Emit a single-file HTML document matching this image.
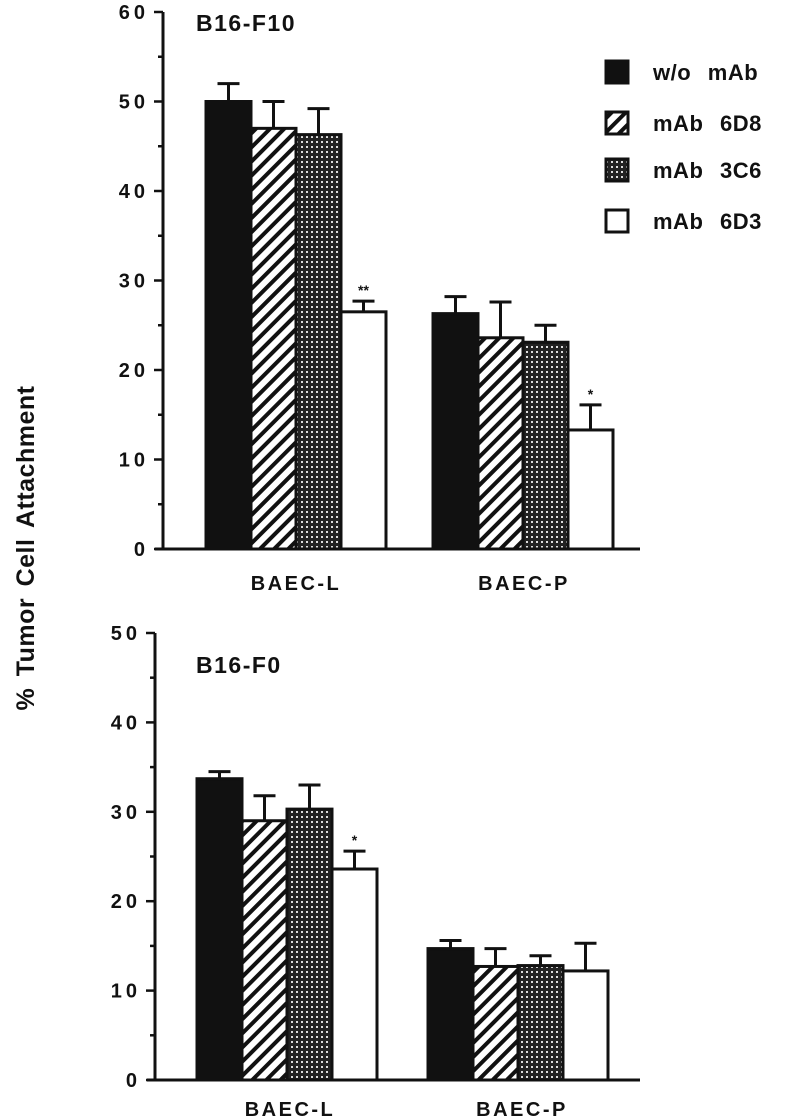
<!DOCTYPE html>
<html><head><meta charset="utf-8"><style>
html,body{margin:0;padding:0;background:#fff;}
svg{display:block;font-family:"Liberation Sans",Arial,sans-serif;font-weight:bold;}
</style></head><body>
<svg id="fig" width="785" height="1120" viewBox="0 0 785 1120">
<defs>
<pattern id="hatch" patternUnits="userSpaceOnUse" width="10" height="10" patternTransform="rotate(45)">
<rect width="10" height="10" fill="#fff"/><rect width="4" height="10" fill="#111"/></pattern>
<pattern id="dots" patternUnits="userSpaceOnUse" width="5" height="5">
<rect width="5" height="5" fill="#222"/><rect x="1" y="1" width="2" height="2" fill="#ddd"/></pattern>
</defs>
<text x="34" y="548" transform="rotate(-90 34 548)" text-anchor="middle" font-size="25" letter-spacing="0.5" word-spacing="4" fill="#111">% Tumor Cell Attachment</text>
</svg>
<script>
const groups=["BAEC-L","BAEC-P"];
const series=["w/o mAb","mAb 6D8","mAb 3C6","mAb 6D3"];
const topVals=[[50,47,46.3,26.5],[26.3,23.6,23.1,13.3]];
const topErr=[[2,3,2.9,1.2],[1.9,4,1.9,2.8]];
const topStars=[["","","","**"],["","","","*"]];
const topTicks=[0,10,20,30,40,50,60];
const botVals=[[33.7,29,30.3,23.6],[14.7,12.7,12.8,12.2]];
const botErr=[[0.8,2.8,2.7,2],[0.9,2,1.1,3.1]];
const botStars=[["","","","*"],["","","",""]];
const botTicks=[0,10,20,30,40,50];
const fills=["#111","url(#hatch)","url(#dots)","#fff"];
const NS="http://www.w3.org/2000/svg";
const svg=document.getElementById('fig');
function el(t,a,p){const e=document.createElementNS(NS,t);for(const k in a)e.setAttribute(k,a[k]);(p||svg).appendChild(e);return e;}
function panel(cfg){
 const g=el('g',{});
 
 
 const y=v=>cfg.y0-(v/10)*cfg.pxPer10;
 const ymax=cfg.ticks[cfg.ticks.length-1];
 const ax=el('line',{x1:cfg.ax,x2:cfg.ax,y1:y(ymax),y2:cfg.y0,stroke:'#111','stroke-width':3},g);
 
 
 const xa=el('line',{x1:cfg.ax-8,x2:cfg.xEnd,y1:cfg.y0,y2:cfg.y0,stroke:'#111','stroke-width':3},g);
 
 
 for(let v=0;v<=ymax;v+=5){
  el('line',{x1:cfg.ax-(v%10?5:9),x2:cfg.ax,y1:y(v),y2:y(v),stroke:'#111','stroke-width':2.5},g);
 }
 cfg.ticks.forEach(t=>{
  const tx=el('text',{x:cfg.ax-14,y:y(t)+7,'text-anchor':'end','font-size':20,'letter-spacing':4,fill:'#111'},g);
  tx.textContent=String(t);
  
  
 });
 const ti=el('text',{x:cfg.titleX,y:cfg.titleY,'font-size':23,'letter-spacing':1.5,fill:'#111'},g);
 ti.textContent=cfg.title;
 
 
 groups.forEach((gn,gi)=>{
  const gl=el('text',{x:cfg.gCenter[gi],y:cfg.labelY,'text-anchor':'middle','font-size':20,'letter-spacing':2.5,fill:'#111'},g);
  gl.textContent=gn;
  
  
  series.forEach((s,si)=>{
   const x0=cfg.gStart[gi]+si*cfg.bw, v=cfg.vals[gi][si], top=y(v);
   const cx=x0+cfg.bw/2, et=y(v+cfg.err[gi][si]);
   const eb=el('path',{d:`M${cx} ${top}V${et}M${cx-11} ${et}H${cx+11}`,stroke:'#111','stroke-width':3,fill:'none'},g);
   
   
   const r=el('rect',{x:x0,y:top,width:cfg.bw,height:cfg.y0-top,fill:fills[si],stroke:'#111','stroke-width':3},g);
   
   
   const st=cfg.stars[gi][si];
   if(st){const sx=el('text',{x:cx,y:et-6,'text-anchor':'middle','font-size':14,fill:'#111'},g);sx.textContent=st;
    
    }
  });
 });
}
panel({name:'top-panel',ax:163,y0:549,pxPer10:89.5,xEnd:640,ticks:topTicks,vals:topVals,err:topErr,stars:topStars,
 gStart:[206,433],bw:45,gCenter:[296,524],labelY:590,title:'B16-F10',titleX:196,titleY:31});
panel({name:'bottom-panel',ax:155,y0:1080,pxPer10:89.4,xEnd:640,ticks:botTicks,vals:botVals,err:botErr,stars:botStars,
 gStart:[197,428],bw:45,gCenter:[290,522],labelY:1116,title:'B16-F0',titleX:196,titleY:673});
const leg=el('g',{});


const legY=[72,123,170,221];
series.forEach((s,i)=>{
 const b=el('rect',{x:606,y:legY[i]-11,width:22,height:22,fill:fills[i],stroke:'#111','stroke-width':3},leg);
 
 
 const t=el('text',{x:653,y:legY[i]+8,'font-size':22,'word-spacing':10,'letter-spacing':0.5,fill:'#111'},leg);
 t.textContent=s;
 
 
});
</script>
</body></html>
